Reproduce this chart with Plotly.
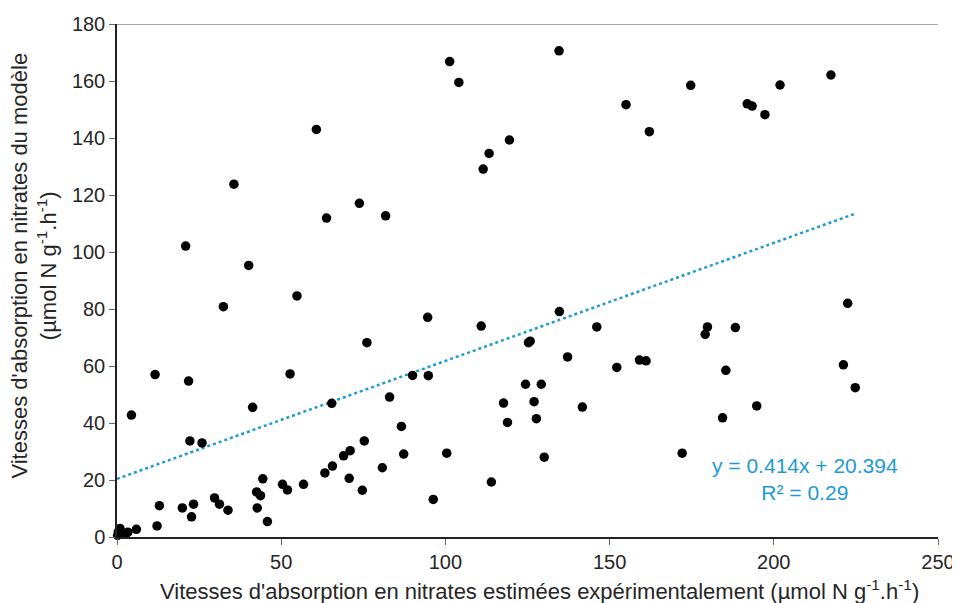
import plotly.graph_objects as go

# Experimental (x) vs model (y) nitrate uptake rates
x_exp = [0.2, 0.4, 0.9, 2.6, 3.3, 5.9, 4.4, 11.6, 12.2, 12.9,
         19.9, 20.9, 21.8, 22.2, 22.7, 23.3, 25.9, 29.7, 31.2, 32.4,
         33.8, 35.6, 40.1, 41.3, 42.5, 42.7, 43.7, 44.4, 45.8, 50.4,
         51.9, 52.7, 54.8, 56.8, 60.7, 63.3, 63.8, 65.4, 65.6, 69.0,
         70.7, 71.0, 73.8, 74.7, 75.3, 76.1, 80.8, 81.8, 83.0, 86.6,
         87.3, 90.0, 94.6, 94.8, 96.3, 100.4, 101.3, 104.1, 110.9, 111.5,
         113.3, 114.0, 117.7, 118.9, 119.5, 124.4, 125.3, 125.8, 127.0, 127.7,
         129.2, 130.1, 134.6, 134.7, 137.2, 141.7, 146.1, 152.2, 155.0, 159.1,
         161.1, 162.1, 172.1, 174.7, 179.1, 179.8, 184.4, 185.4, 188.3, 191.9,
         193.4, 194.8, 197.3, 201.9, 217.4, 221.2, 222.5, 224.8]
y_model = [0.6, 1.8, 3.0, 1.0, 1.7, 2.7, 42.8, 57.0, 3.9, 11.0,
           10.2, 102.1, 54.7, 33.7, 7.1, 11.5, 33.0, 13.7, 11.5, 80.8,
           9.4, 123.8, 95.3, 45.5, 15.8, 10.2, 14.5, 20.4, 5.4, 18.5,
           16.5, 57.2, 84.6, 18.5, 143.0, 22.5, 111.9, 46.9, 24.9, 28.5,
           20.6, 30.3, 117.1, 16.4, 33.7, 68.2, 24.3, 112.7, 49.1, 38.8,
           29.1, 56.7, 77.1, 56.6, 13.2, 29.4, 166.8, 159.5, 74.0, 129.1,
           134.6, 19.3, 47.0, 40.2, 139.3, 53.6, 68.2, 68.7, 47.5, 41.5,
           53.6, 28.0, 170.6, 79.1, 63.2, 45.6, 73.7, 59.5, 151.7, 62.1,
           61.8, 142.2, 29.4, 158.5, 71.1, 73.7, 41.8, 58.5, 73.5, 152.0,
           151.2, 46.0, 148.2, 158.6, 162.1, 60.4, 82.0, 52.4]

slope = 0.414
intercept = 20.394
eq_label = "y = 0.414x + 20.394"
r2_label = "R² = 0.29"

x_ticks = [0, 50, 100, 150, 200, 250]
y_ticks = [0, 20, 40, 60, 80, 100, 120, 140, 160, 180]

x_title = "Vitesses d'absorption en nitrates estimées expérimentalement (µmol N g<sup>-1</sup>.h<sup>-1</sup>)"
y_title = "Vitesses d'absorption en nitrates du modèle<br>(µmol N g<sup>-1</sup>.h<sup>-1</sup>)"

FONT = "Liberation Sans, Arial, sans-serif"
BLUE = "#1c9ad6"
TXT = "#262626"

x_fit = [0, max(x_exp)]
y_fit = [intercept + slope * v for v in x_fit]

fig = go.Figure()
fig.add_trace(go.Scatter(
    x=x_fit, y=y_fit, mode="lines",
    line=dict(color=BLUE, width=2.5, dash="dot"),
    showlegend=False, hoverinfo="skip",
))
fig.add_trace(go.Scatter(
    x=x_exp, y=y_model, mode="markers",
    marker=dict(color="black", size=9.5),
    showlegend=False, cliponaxis=False,
))

# regression equation
fig.add_annotation(
    x=0.838, y=0.113, xref="paper", yref="paper",
    xanchor="center", yanchor="middle",
    text=eq_label + "<br>" + r2_label, showarrow=False,
    font=dict(family=FONT, size=21, color=BLUE), align="center",
)
# axis titles
fig.add_annotation(
    x=0.515, y=-0.103, xref="paper", yref="paper",
    xanchor="center", yanchor="middle",
    text=x_title, showarrow=False,
    font=dict(family=FONT, size=22, color=TXT),
)
fig.add_annotation(
    x=-0.1005, y=0.530, xref="paper", yref="paper",
    xanchor="center", yanchor="middle", textangle=-90,
    text=y_title, showarrow=False,
    font=dict(family=FONT, size=22, color=TXT),
)

fig.add_shape(type="line", xref="x", yref="y", x0=0, x1=250, y0=180, y1=180,
              line=dict(color="#8c8c8c", width=1.5), layer="below")

fig.update_layout(
    width=960, height=603,
    margin=dict(l=109, r=30, t=16, b=74),
    paper_bgcolor="white", plot_bgcolor="white",
    font=dict(family=FONT, size=20, color=TXT),
    xaxis=dict(
        range=[0, 250], tickvals=x_ticks, ticktext=[str(v) for v in x_ticks],
        showgrid=False, zeroline=False, automargin=False,
        showline=True, linecolor="#222222", linewidth=1.5,
        ticks="outside", ticklen=6, tickcolor="#666666", tickwidth=1,
        tickfont=dict(size=20, family=FONT, color=TXT),
    ),
    yaxis=dict(
        range=[0, 180], tickvals=y_ticks, ticktext=[str(v) for v in y_ticks],
        showgrid=False, zeroline=False, automargin=False,
        showline=True, linecolor="#222222", linewidth=1.5,
        ticks="outside", ticklen=6, tickcolor="#666666", tickwidth=1,
        tickfont=dict(size=20, family=FONT, color=TXT),
    ),
)

fig.write_html("out.html")
